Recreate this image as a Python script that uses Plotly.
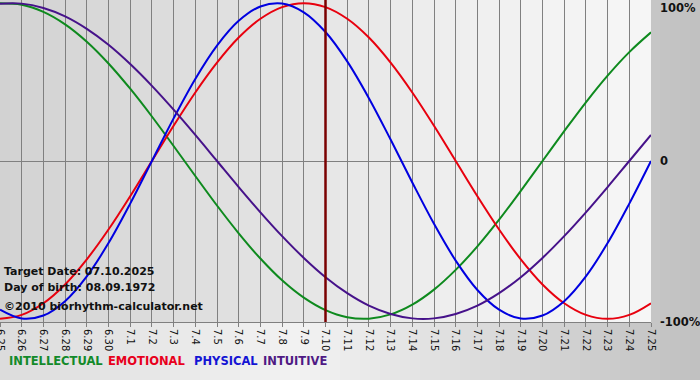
import plotly.graph_objects as go

days = ["6.25", "6.26", "6.27", "6.28", "6.29", "6.30",
        "7.1", "7.2", "7.3", "7.4", "7.5", "7.6", "7.7", "7.8", "7.9", "7.10",
        "7.11", "7.12", "7.13", "7.14", "7.15", "7.16", "7.17", "7.18", "7.19",
        "7.20", "7.21", "7.22", "7.23", "7.24", "7.25"]

intellectual = [99.9, 99.0, 94.5, 86.6, 75.6, 61.8, 45.8, 28.2, 9.5, -9.5, -28.2,
                -45.8, -61.8, -75.6, -86.6, -94.5, -99.0, -99.9, -97.2, -91.0, -81.5,
                -69.0, -54.1, -37.2, -18.9, 0.0, 18.9, 37.2, 54.1, 69.0, 81.5]
emotional = [-100.0, -97.5, -90.1, -78.2, -62.3, -43.4, -22.3, 0.0, 22.3, 43.4, 62.3,
             78.2, 90.1, 97.5, 100.0, 97.5, 90.1, 78.2, 62.3, 43.4, 22.3,
             0.0, -22.3, -43.4, -62.3, -78.2, -90.1, -97.5, -100.0, -97.5, -90.1]
physical = [-94.2, -99.8, -97.9, -88.8, -73.1, -52.0, -27.0, 0.0, 27.0, 52.0, 73.1,
            88.8, 97.9, 99.8, 94.2, 81.7, 63.1, 39.8, 13.6, -13.6, -39.8,
            -63.1, -81.7, -94.2, -99.8, -97.9, -88.8, -73.1, -52.0, -27.0, 0.0]
intuitive = [99.7, 99.7, 96.9, 91.6, 83.7, 73.6, 61.4, 47.6, 32.5, 16.5, 0.0,
             -16.5, -32.5, -47.6, -61.4, -73.6, -83.7, -91.6, -96.9, -99.7, -99.7,
             -96.9, -91.6, -83.7, -73.6, -61.4, -47.6, -32.5, -16.5, 0.0, 16.5]

target_day = "7.10"
y_ticks = [-100, 0, 100]
y_ticktext = ["-100%", "0", "100%"]

series = [
    ("INTELLECTUAL", intellectual, "#0e8a1e", "#138a2a"),
    ("EMOTIONAL", emotional, "#e8000e", "#e8001c"),
    ("PHYSICAL", physical, "#0000e0", "#1414d4"),
    ("INTUITIVE", intuitive, "#46128a", "#4f1a84"),
]

W, H = 700, 380
PL, PR, PT, PB = 0, 651, 0, 322  # plot area in pixels


def xp(px):
    return (px - PL) / (PR - PL)


def yp(py):
    return (PB - py) / (PB - PT)


def interp(x, pts):
    for (x0, c0), (x1, c1) in zip(pts[:-1], pts[1:]):
        if x0 <= x <= x1:
            return c0 + (c1 - c0) * (x - x0) / (x1 - x0)
    return pts[-1][1]


def gray(v):
    v = int(round(v))
    return f"rgb({v},{v},{v})"


fig = go.Figure()
for name, vals, col, _ in series:
    fig.add_trace(go.Scatter(x=days, y=vals, mode="lines", name=name,
                             line=dict(color=col, width=2, shape="spline", smoothing=1),
                             hoverinfo="skip"))

shapes = []
# outer background gradient
outer_pts = [(0, 0xdc), (300, 0xf2), (700, 0xc0)]
step = 10
for x0 in range(0, W, step):
    shapes.append(dict(type="rect", xref="paper", yref="paper",
                       x0=xp(x0), x1=xp(x0 + step + 0.5), y0=yp(H), y1=yp(0),
                       fillcolor=gray(interp(x0 + step / 2, outer_pts)),
                       line=dict(width=0), layer="below"))
# plot area gradient
plot_pts = [(0, 0xd2), (480, 0xf0), (651, 0xf6)]
for x0 in range(0, PR, step):
    x1 = min(x0 + step + 0.5, PR)
    shapes.append(dict(type="rect", xref="paper", yref="paper",
                       x0=xp(x0), x1=xp(x1), y0=0, y1=1,
                       fillcolor=gray(interp(x0 + step / 2, plot_pts)),
                       line=dict(width=0), layer="below"))
# target date line
ti = days.index(target_day)
shapes.append(dict(type="line", xref="x", yref="paper", x0=ti, x1=ti, y0=0, y1=1,
                   line=dict(color="#7a0000", width=2.5), layer="above"))

annotations = []
info = [("Target Date: 07.10.2025", 271), ("Day of birth: 08.09.1972", 287),
        ("©2010 biorhythm-calculator.net", 306)]
for txt, py in info:
    annotations.append(dict(text=txt, xref="paper", yref="paper", x=xp(2), y=yp(py),
                            xanchor="left", yanchor="middle", showarrow=False,
                            font=dict(family="DejaVu Sans", size=11, color="#111111",
                                      weight="bold")))
legend_x = [7, 106, 192, 261]
for (name, _, _, lcol), lx in zip(series, legend_x):
    annotations.append(dict(text=name, xref="paper", yref="paper", x=xp(lx), y=yp(361),
                            xanchor="left", yanchor="middle", showarrow=False,
                            font=dict(family="DejaVu Sans", size=11.5, color=lcol,
                                      weight="bold")))
# right-hand value labels
yshifts = [-3, 0, -5]
for v, t, ys in zip(y_ticks, y_ticktext, yshifts):
    annotations.append(dict(text=t, xref="paper", yref="y", x=xp(658), y=v,
                            xanchor="left", yanchor="middle", showarrow=False,
                            yshift=ys,
                            font=dict(family="DejaVu Sans", size=11.5, color="#111111",
                                      weight="bold")))

fig.update_layout(
    width=W, height=H,
    margin=dict(l=PL, r=W - PR, t=PT, b=H - PB, pad=0),
    paper_bgcolor="#d8d8d8", plot_bgcolor="#e4e4e4",
    showlegend=False,
    shapes=shapes, annotations=annotations,
    xaxis=dict(type="category", range=[0, len(days) - 1], showgrid=True,
               gridcolor="#808080", gridwidth=1, showline=True, linecolor="#808080",
               linewidth=1, ticks="outside", ticklen=4, tickcolor="#808080",
               tickangle=90, tickfont=dict(family="DejaVu Sans", size=10, color="#111111"),
               automargin=False, zeroline=False, fixedrange=True),
    yaxis=dict(range=[-102, 102], showgrid=False, zeroline=True,
               zerolinecolor="#808080", zerolinewidth=1, showticklabels=False,
               ticks="", automargin=False, showline=False, fixedrange=True),
)

fig.write_html("out.html", config={"displayModeBar": False},
               post_script="document.body.style.margin='0';document.body.style.overflow='hidden';")
